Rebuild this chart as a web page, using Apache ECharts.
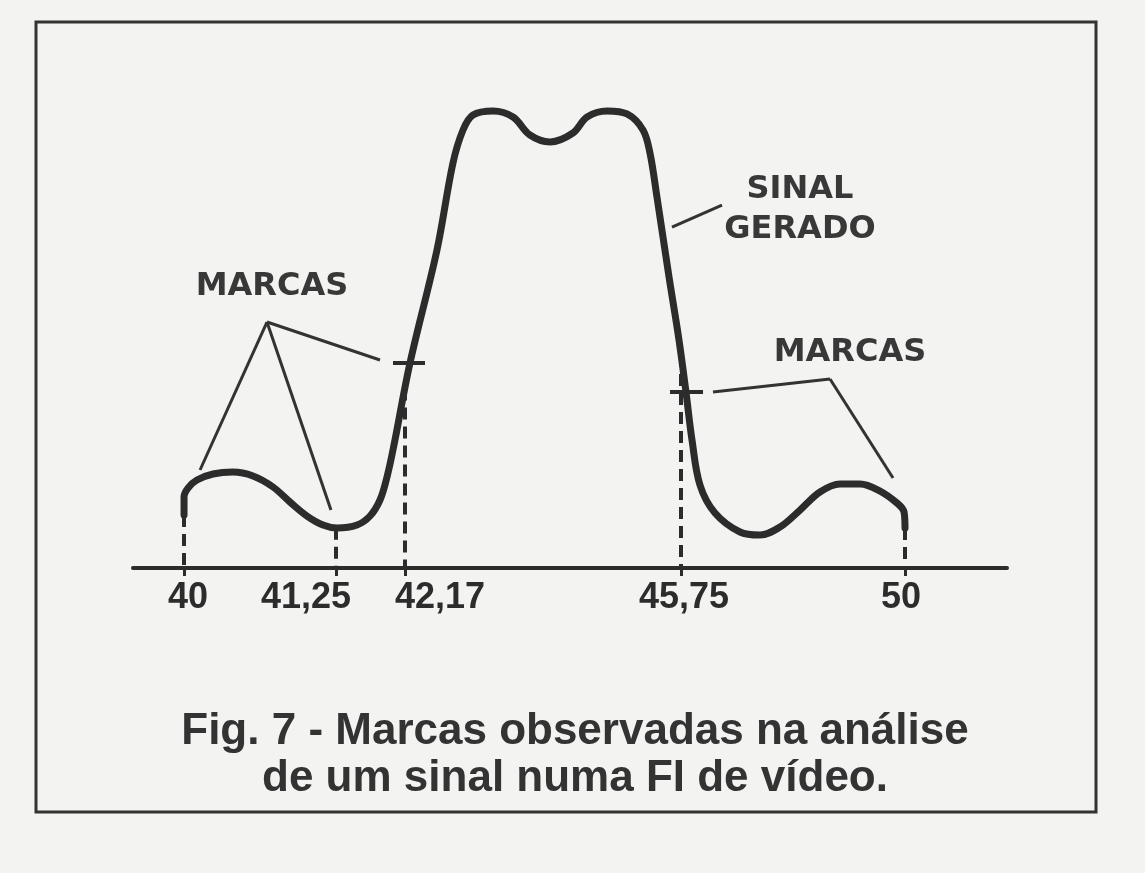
<!DOCTYPE html>
<html><head><meta charset="utf-8">
<script src="https://cdn.jsdelivr.net/npm/echarts@6/dist/echarts.min.js"></script>
<style>html,body{margin:0;padding:0;background:#f3f3f1;} #c{width:1145px;height:873px;}</style>
</head><body><div id="c"></div>
<script>
// schematic horizontal position (0-100) of the traced response curve
const curveX = [5.84,5.84,6.29,7.32,9.15,11.44,13.73,16.02,17.96,19.91,21.74,23.34,25.63,27.12,28.26,29.06,29.86,31.69,34.78,36.61,37.76,38.90,41.19,43.48,45.42,47.71,50.34,51.95,54.23,56.52,58.35,59.15,59.95,61.33,62.47,63.27,63.96,64.87,66.59,69.45,71.74,74.03,76.32,78.60,80.89,83.18,85.47,87.41,88.22,88.33];
// relative amplitude (0-100)
const curveY = [11.32,15.17,17.09,18.80,20.09,20.51,19.66,17.31,14.10,11.11,9.19,8.55,9.19,11.11,14.53,19.44,26.28,43.80,67.95,86.54,93.59,96.79,97.65,96.37,92.52,91.03,92.95,96.37,97.65,97.01,93.59,88.68,79.27,62.18,48.72,37.61,27.35,17.74,11.75,7.69,7.05,8.76,12.39,16.24,17.95,17.95,16.45,13.89,11.97,8.55];
// frequency markers (MHz) and their schematic positions
const markerFreq = ['40','41,25','42,17','45,75','50'];
const markerX = [5.84, 23.23, 31.12, 62.70, 88.33];
// short marker bars on the curve: [xStart, xEnd, y]
const markBars = [[29.75, 33.41, 43.8],[61.44, 65.22, 37.6]];
// annotation leader lines (segments)
const leaderLeft = [[[15.33,52.56],[7.67,20.94]],[[15.33,52.56],[22.65,12.39]],[[15.33,52.56],[28.26,44.44]]];
const leaderRight = [[[66.36,37.61],[79.75,40.38]],[[79.75,40.38],[86.96,19.23]]];
const leaderSinal = [[[61.67,72.86],[67.39,77.56]]];
const annotationTexts = ['MARCAS','SINAL\nGERADO','MARCAS'];
const captionLines = ['Fig. 7 - Marcas observadas na análise','de um sinal numa FI de vídeo.'];

// style: per-label horizontal shift (px)
const labelShift = [4,-30,35,3,-4];

const INK = '#2c2c2c';
function curveAt(x){
  let best = null;
  for(let i=0;i<curveX.length-1;i++){
    const x0=curveX[i],x1=curveX[i+1];
    if(x>=Math.min(x0,x1) && x<=Math.max(x0,x1)){
      let y;
      if(x1===x0) y=Math.min(curveY[i],curveY[i+1]);
      else y=curveY[i]+(curveY[i+1]-curveY[i])*(x-x0)/(x1-x0);
      if(best===null||y<best) best=y;
    }
  }
  return best;
}
const curveData = curveX.map((x,i)=>[x,curveY[i]]);
const dashData = markerX.map(x=>[{coord:[x,curveAt(x)]},{coord:[x,0]}]);
const barData = markBars.map(b=>[{coord:[b[0],b[2]]},{coord:[b[1],b[2]]}]);
const leaderData = [].concat(leaderLeft,leaderRight,leaderSinal).map(s=>[{coord:s[0]},{coord:s[1]}]);

const rich = {};
labelShift.forEach((d,i)=>{
  rich['l'+i] = {fontFamily:'Liberation Sans',fontSize:36,fontWeight:'bold',color:INK,
    padding: d>=0 ? [0,0,0,2*d] : [0,-2*d,0,0]};
});

const chart = echarts.init(document.getElementById('c'),null,{renderer:'canvas'});
chart.setOption({
  backgroundColor:'#f3f3f1',
  animation:false,
  title:{
    text: captionLines.join('\n'),
    left: 570, top: 703, textAlign:'center',
    textStyle:{fontFamily:'Liberation Sans',fontSize:44,fontWeight:'bold',color:'#333333',lineHeight:47}
  },
  grid:{left:133,right:138,top:100,bottom:305},
  xAxis:{type:'value',min:0,max:100,
    splitLine:{show:false},
    axisLine:{onZero:false,lineStyle:{color:INK,width:4}},
    axisTick:{show:true,customValues:markerX,length:8,lineStyle:{color:INK,width:3}},
    axisLabel:{customValues:markerX,margin:12,
      formatter:(v)=>{
        let idx=0,bd=1e9;
        markerX.forEach((m,i)=>{const d=Math.abs(m-v); if(d<bd){bd=d;idx=i;}});
        return '{l'+idx+'|'+markerFreq[idx]+'}';
      },
      rich}
  },
  yAxis:{type:'value',min:0,max:100,show:false},
  series:[
    {type:'line',name:'guides',data:[],z:1,silent:true,
      markLine:{silent:true,symbol:'none',label:{show:false},animation:false,
        lineStyle:{type:[12,7],width:4,color:INK},data:dashData}},
    {type:'line',name:'leaders',data:[],z:2,silent:true,
      markLine:{silent:true,symbol:'none',label:{show:false},animation:false,
        lineStyle:{type:'solid',width:3,color:'#333'},data:leaderData}},
    {type:'line',name:'Sinal gerado',data:curveData,smooth:0.35,showSymbol:false,z:3,
      lineStyle:{color:INK,width:7,cap:'round',join:'round'}},
    {type:'line',name:'marks',data:[],z:4,silent:true,
      markLine:{silent:true,symbol:'none',label:{show:false},animation:false,
        lineStyle:{type:'solid',width:4,color:INK},data:barData}}
  ],
  graphic:[
    {type:'rect',shape:{x:36,y:22,width:1060,height:790},style:{fill:'none',stroke:'#333',lineWidth:3},z:0},
    {type:'text',x:272,y:287,style:{text:annotationTexts[0],font:'bold 32px "DejaVu Sans"',fill:'#383838',align:'center',verticalAlign:'middle'}},
    {type:'text',x:800,y:210,style:{text:annotationTexts[1],font:'bold 32px "DejaVu Sans"',fill:'#383838',align:'center',verticalAlign:'middle',lineHeight:40}},
    {type:'text',x:850,y:353,style:{text:annotationTexts[2],font:'bold 32px "DejaVu Sans"',fill:'#383838',align:'center',verticalAlign:'middle'}}
  ]
});
</script></body></html>
